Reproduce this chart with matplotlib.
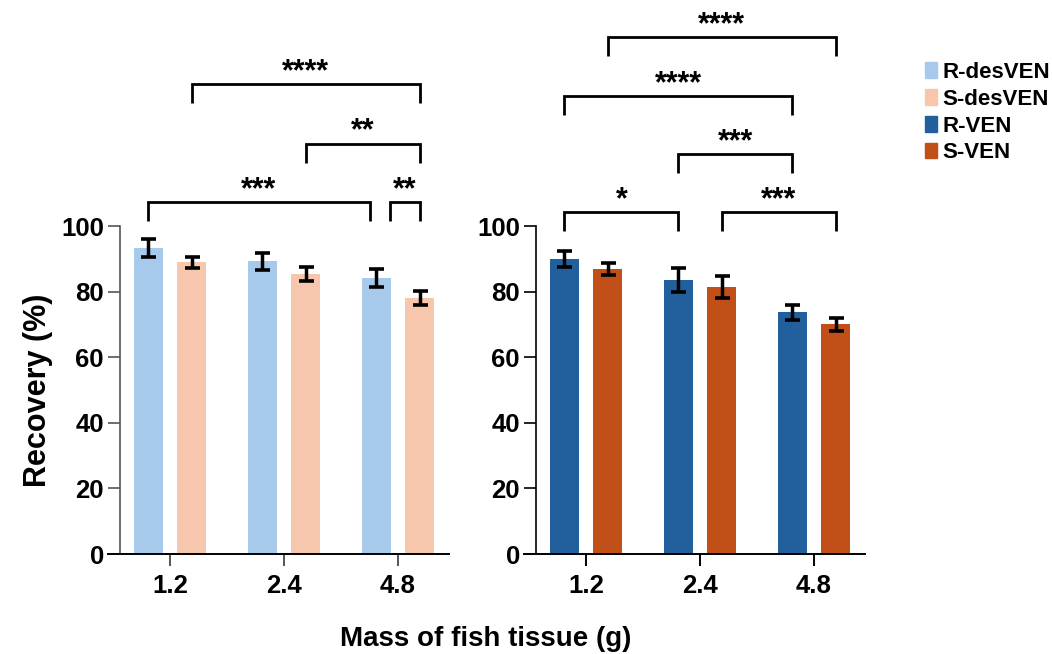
import matplotlib
matplotlib.use('Agg')
import matplotlib.pyplot as plt
from matplotlib.patches import Patch

plt.rcParams['font.family'] = ['Liberation Sans', 'DejaVu Sans']
plt.rcParams['font.weight'] = 'bold'
plt.rcParams['axes.labelweight'] = 'bold'

# recovery data (mean, sd) per tissue mass
masses = ['1.2', '2.4', '4.8']
r_desven = [93.3, 89.2, 84.1]
r_desven_err = [2.8, 2.6, 2.7]
s_desven = [88.9, 85.4, 78.0]
s_desven_err = [1.6, 2.1, 2.1]
r_ven = [89.9, 83.5, 73.7]
r_ven_err = [2.4, 3.6, 2.3]
s_ven = [86.9, 81.4, 70.1]
s_ven_err = [1.7, 3.5, 2.0]

# significance brackets: (group_a, series_a, group_b, series_b, level, stars)
# series 0 = R (left bar), 1 = S (right bar)
left_sig = [
    (0, 0, 2, 0, 107.4, '***'),
    (2, 0, 2, 1, 107.4, '**'),
    (1, 1, 2, 1, 125.1, '**'),
    (0, 1, 2, 1, 143.3, '****'),
]
right_sig = [
    (0, 0, 1, 0, 104.2, '*'),
    (1, 1, 2, 1, 104.2, '***'),
    (1, 0, 2, 0, 121.9, '***'),
    (0, 0, 2, 0, 139.6, '****'),
    (0, 1, 2, 1, 157.5, '****'),
]

colors = {'R-desVEN': '#A7C9EB', 'S-desVEN': '#F6C7AD',
          'R-VEN': '#225F9D', 'S-VEN': '#C05018'}

width = 0.254
offset = 0.19
drop = 5.8


def bar_x(group, series):
    return group + (offset if series else -offset)


def draw_panel(ax, r_vals, r_err, s_vals, s_err, c_r, c_s, sigs, spine_col):
    x = list(range(len(masses)))
    xr = [bar_x(i, 0) for i in x]
    xs = [bar_x(i, 1) for i in x]
    ekw = dict(elinewidth=2.5, capthick=2.6, capsize=5.4, ecolor='black')
    ax.bar(xr, r_vals, width, color=c_r, yerr=r_err, error_kw=ekw, zorder=2)
    ax.bar(xs, s_vals, width, color=c_s, yerr=s_err, error_kw=ekw, zorder=2)

    ax.set_xlim(-0.544, 2.447)
    ax.set_ylim(0, 100)
    ax.set_yticks([0, 20, 40, 60, 80, 100])
    ax.set_xticks(x)
    ax.set_xticklabels(masses)
    ax.spines['top'].set_visible(False)
    ax.spines['right'].set_visible(False)
    ax.spines['left'].set_position(('data', -0.439))
    ax.spines['left'].set_color(spine_col)
    ax.spines['left'].set_linewidth(1.2)
    ax.spines['bottom'].set_linewidth(1.4)
    ax.tick_params(axis='y', length=8.6, width=1.2, color=spine_col,
                   labelsize=18.5, pad=3)
    ax.tick_params(axis='x', length=8.6, width=1.4, color=spine_col,
                   labelsize=18.5, pad=6)

    # brackets sharing a level get their touching ends pulled apart
    ends = {}
    for ga, sa, gb, sb, lev, _ in sigs:
        ends.setdefault(lev, []).append((bar_x(ga, sa), bar_x(gb, sb)))

    for ga, sa, gb, sb, lev, stars in sigs:
        xa, xb = bar_x(ga, sa), bar_x(gb, sb)
        for oa, ob in ends[lev]:
            if (oa, ob) == (xa, xb):
                continue
            if oa < xa <= ob:
                xa += 0.06
            if oa <= xb < ob:
                xb -= 0.06
        ax.plot([xa, xa, xb, xb], [lev - drop, lev, lev, lev - drop],
                color='black', lw=2.0, clip_on=False, solid_capstyle='butt',
                solid_joinstyle='miter')
        ax.text((xa + xb) / 2, lev + 1.2, stars, ha='center', va='baseline',
                fontsize=22, clip_on=False)


fig = plt.figure(figsize=(10.52, 6.54), dpi=100)
ax1 = fig.add_axes([108 / 1052, 100 / 654, 341 / 1052, 328 / 654])
ax2 = fig.add_axes([524 / 1052, 100 / 654, 341 / 1052, 328 / 654])

draw_panel(ax1, r_desven, r_desven_err, s_desven, s_desven_err,
           colors['R-desVEN'], colors['S-desVEN'], left_sig, '#555555')
draw_panel(ax2, r_ven, r_ven_err, s_ven, s_ven_err,
           colors['R-VEN'], colors['S-VEN'], right_sig, 'black')

ax1.set_ylabel('Recovery (%)', fontsize=22, labelpad=6)
fig.text(486 / 1052, 1 - 639 / 654, 'Mass of fish tissue (g)',
         ha='center', va='center', fontsize=20)

handles = [Patch(color=c, label=k) for k, c in colors.items()]
fig.legend(handles=handles, loc='upper left',
           bbox_to_anchor=(925 / 1052, 1 - 62 / 654), frameon=False,
           fontsize=16, handlelength=0.55, handleheight=0.7,
           handletextpad=0.25, labelspacing=0.26, borderpad=0, borderaxespad=0)

fig.savefig('out.png', dpi=100)
